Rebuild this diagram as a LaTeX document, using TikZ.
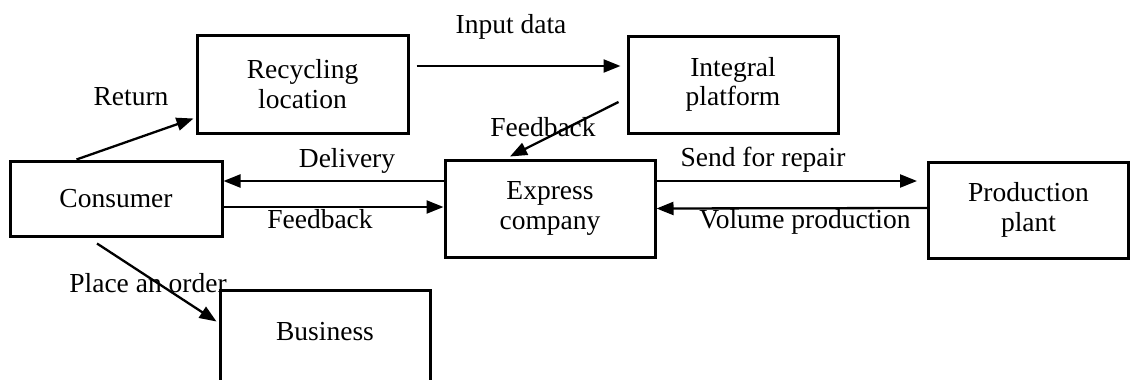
\documentclass[tikz,border=0pt]{standalone}
\usepackage{fontspec}
\setmainfont{Liberation Serif}
\usetikzlibrary{calc,arrows.meta}
\begin{document}
\begin{tikzpicture}[x=1pt,y=-1pt,
  box/.style={draw,line width=3pt,rectangle,align=center,inner sep=0pt,font=\fontsize{27.5}{29.5}\selectfont},
  lbl/.style={anchor=base,inner sep=0pt,font=\fontsize{27.5}{29.5}\selectfont},
  arr/.style={line width=2.3pt,-{Triangle[length=17pt,width=13pt]}}]
\useasboundingbox (0,0) rectangle (1130,380);
\clip (0,0) rectangle (1130,380);
\node[box,minimum width=211pt,minimum height=98pt] (recycling) at (302.5,84) {Recycling\\location};
\node[box,minimum width=210pt,minimum height=97pt] (integral) at (733,84.5) {Integral\\platform};
\node[box,minimum width=210pt,minimum height=97pt] (express) at (550,208.5) {Express\\company};
\node[box,minimum width=212pt,minimum height=75pt] (consumer) at (116,198.5) {Consumer};
\node[box,minimum width=200pt,minimum height=96pt] (production) at (1028.5,210) {Production\\plant};
\node[box,minimum width=210pt,minimum height=130pt] (business) at (325,355) {};
\node[lbl] (businesstext) at (325,340) {Business};
% arrows
\draw[arr] ($(consumer.north west)+(68,0)$) -- ($(recycling.south west)+(-2,-16)$);
\draw[arr] ($(recycling.east)+(7,-18)$) -- ($(integral.west)+(-6,-18.5)$);
\draw[arr] ($(integral.west)+(-8,17.5)$) -- ($(express.north)+(-40,-2)$);
\draw[arr] ($(express.west)+(0,-27.5)$) -- ($(consumer.east)+(0,-17.5)$);
\draw[arr] ($(consumer.east)+(0,8.5)$) -- ($(express.west)+(0,-1.5)$);
\draw[arr] ($(express.east)+(0,-27.5)$) -- ($(production.west)+(-10,-29)$);
\draw[arr] ($(production.west)+(0,-2)$) -- ($(express.east)+(0,0)$);
\draw[arr] ($(consumer.south)+(-19,6)$) -- ($(business.north west)+(-2,33)$);
% labels
\node[lbl] (lreturn) at (131,105) {Return};
\node[lbl] (linput) at (511,33) {Input data};
\node[lbl] (lfeed1) at (543,136) {Feedback};
\node[lbl] (ldeliv) at (347,167) {Delivery};
\node[lbl] (lfeed2) at (320,228) {Feedback};
\node[lbl] (lsend) at (763,166) {Send for repair};
\node[lbl] (lvol) at (805,228) {Volume production};
\node[lbl] (lorder) at (148,292) {Place an order};
\end{tikzpicture}
\end{document}
